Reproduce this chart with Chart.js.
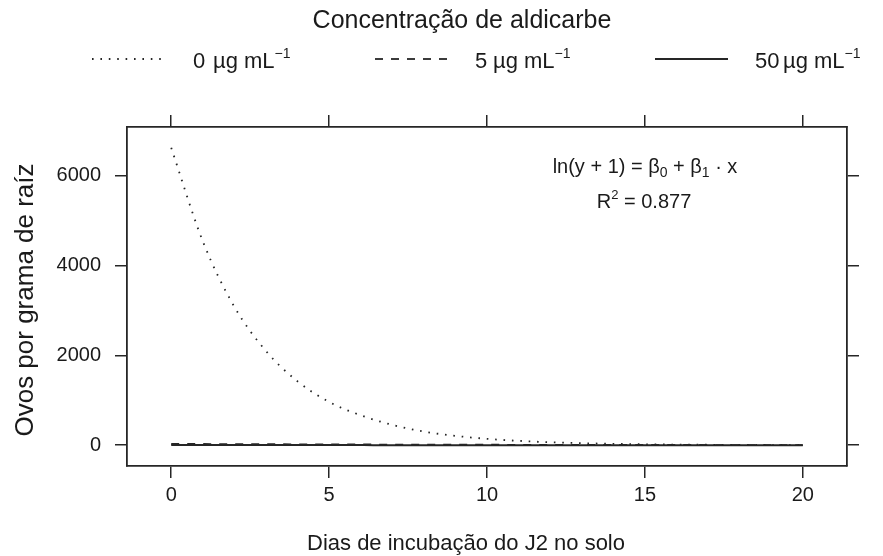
<!DOCTYPE html>
<html>
<head>
<meta charset="utf-8">
<script src="https://cdn.jsdelivr.net/npm/chart.js@4.4.1/dist/chart.umd.min.js"></script>
<style>
  html, body { margin: 0; padding: 0; background: #ffffff; }
  #wrap { width: 883px; height: 556px; }
</style>
</head>
<body>
<div id="wrap"><canvas id="c" width="883" height="556"></canvas></div>
<script>
// Incubation days of J2 in soil
const days = [0, 1, 2, 3, 4, 5, 6, 7, 8, 9, 10, 11, 12, 13, 14, 15, 16, 17, 18, 19, 20];

// Fitted eggs per gram of root, one list per aldicarb concentration
const eggs0 = [6622, 4542, 3082, 2098, 1422, 964, 667, 453, 304, 208, 142, 97, 66, 45, 30, 21, 14, 10, 6, 4, 3];
const eggs5 = [30, 27, 24, 22, 20, 18, 16, 14, 13, 11, 10, 9, 8, 7, 6, 6, 5, 4, 4, 3, 3];
const eggs50 = [2, 2, 2, 2, 2, 2, 2, 1, 1, 1, 1, 1, 1, 1, 1, 1, 1, 1, 1, 1, 1];

// Axis ticks
const xTicks = [0, 5, 10, 15, 20];
const yTicks = [0, 2000, 4000, 6000];

// Texts
const titleText = 'Concentração de aldicarbe';
const xTitle = 'Dias de incubação do J2 no solo';
const yTitle = 'Ovos por grama de raíz';
const legendDoses = ['0', '5', '50'];

const FONT = '"Liberation Sans", Arial, Helvetica, sans-serif';
const INK = '#1a1a1a';
const LINE = '#262626';

const DOT = [1.6, 6.8];
const DASH = [8, 8];

function series(values) {
  return days.map((d, i) => ({ x: d, y: values[i] }));
}

function fixTicks(list) {
  return function (scale) {
    scale.ticks = list.map(v => ({ value: v }));
  };
}

function setSize(prop, size) {
  return function (scale) { scale[prop] = size; };
}

// Draws a run of text pieces (normal, sub- and superscripts) starting at x
function drawPieces(ctx, pieces, x, baseY) {
  let cx = x;
  pieces.forEach(p => {
    ctx.font = p.size + 'px ' + FONT;
    ctx.textBaseline = 'alphabetic';
    ctx.textAlign = 'left';
    if (p.at !== undefined) cx = x + p.at;
    ctx.fillText(p.t, cx, baseY + (p.dy || 0));
    cx += ctx.measureText(p.t).width;
  });
  return cx - x;
}

function piecesWidth(ctx, pieces) {
  let w = 0;
  pieces.forEach(p => {
    ctx.font = p.size + 'px ' + FONT;
    w += ctx.measureText(p.t).width;
  });
  return w;
}

const annotations = {
  id: 'annotations',
  afterDraw(chart) {
    const ctx = chart.ctx;
    ctx.save();
    ctx.fillStyle = INK;

    // Title
    ctx.save();
    ctx.translate(462, 28);
    ctx.scale(1, 1.06);
    ctx.font = '25px ' + FONT;
    ctx.textAlign = 'center';
    ctx.textBaseline = 'alphabetic';
    ctx.fillText(titleText, 0, 0);
    ctx.restore();

    // Legend samples
    const ly = 59;
    const samples = [
      { x0: 92, x1: 164, dash: DOT, w: 1.8 },
      { x0: 375, x1: 447, dash: DASH, w: 1.8 },
      { x0: 655, x1: 728, dash: [], w: 2 }
    ];
    samples.forEach(s => {
      ctx.save();
      ctx.strokeStyle = LINE;
      ctx.lineWidth = s.w;
      ctx.setLineDash(s.dash);
      ctx.beginPath();
      ctx.moveTo(s.x0, ly);
      ctx.lineTo(s.x1, ly);
      ctx.stroke();
      ctx.restore();
    });

    // Legend labels
    const labelX = [193, 475, 755];
    const unitAt = [20, 18, 28];
    legendDoses.forEach((dose, i) => {
      drawPieces(ctx, [
        { t: dose, size: 22, at: 0 },
        { t: 'µg', size: 22, at: unitAt[i] },
        { t: ' mL', size: 22 },
        { t: '−1', size: 14, dy: -10 }
      ], labelX[i], 68);
    });

    // Model and fit quality inside the panel
    const eq = [
      { t: 'ln(y + 1) = β', size: 20 },
      { t: '0', size: 14, dy: 4 },
      { t: ' + β', size: 20 },
      { t: '1', size: 14, dy: 4 },
      { t: ' · x', size: 20 }
    ];
    const eqW = piecesWidth(ctx, eq);
    drawPieces(ctx, eq, 645 - eqW / 2, 173);

    const r2 = [
      { t: 'R', size: 20 },
      { t: '2', size: 13, dy: -9 },
      { t: ' = 0.877', size: 20 }
    ];
    const r2W = piecesWidth(ctx, r2);
    drawPieces(ctx, r2, 644 - r2W / 2, 208);

    // Axis titles
    ctx.font = '22px ' + FONT;
    ctx.textAlign = 'center';
    ctx.textBaseline = 'alphabetic';
    ctx.fillText(xTitle, 466, 550);

    ctx.save();
    ctx.translate(33, 300);
    ctx.rotate(-Math.PI / 2);
    ctx.font = '26px ' + FONT;
    ctx.fillText(yTitle, 0, 0);
    ctx.restore();

    ctx.restore();
  }
};

const gridOpts = {
  display: true,
  drawOnChartArea: false,
  drawTicks: true,
  tickLength: 12,
  color: LINE,
  lineWidth: 1.5
};
const borderOpts = { display: true, color: LINE, width: 1.8 };
const tickFont = { family: FONT, size: 20 };
const plainNumber = v => String(v);

new Chart(document.getElementById('c'), {
  type: 'line',
  data: {
    datasets: [
      {
        label: '0 µg mL-1',
        data: series(eggs0),
        borderColor: LINE,
        borderWidth: 1.8,
        borderDash: DOT,
        pointRadius: 0,
        cubicInterpolationMode: 'monotone',
        fill: false
      },
      {
        label: '5 µg mL-1',
        data: series(eggs5),
        borderColor: LINE,
        borderWidth: 1.8,
        borderDash: DASH,
        pointRadius: 0,
        cubicInterpolationMode: 'monotone',
        fill: false
      },
      {
        label: '50 µg mL-1',
        data: series(eggs50),
        borderColor: LINE,
        borderWidth: 2,
        pointRadius: 0,
        cubicInterpolationMode: 'monotone',
        fill: false
      }
    ]
  },
  options: {
    responsive: false,
    animation: false,
    events: [],
    layout: { padding: 0 },
    plugins: {
      legend: { display: false },
      title: { display: false },
      tooltip: { enabled: false }
    },
    scales: {
      x: {
        type: 'linear',
        position: 'bottom',
        min: -1.4,
        max: 21.4,
        afterBuildTicks: fixTicks(xTicks),
        afterFit: setSize('height', 90),
        grid: gridOpts,
        border: borderOpts,
        ticks: { font: tickFont, color: INK, padding: 5, maxRotation: 0, callback: plainNumber }
      },
      xTop: {
        type: 'linear',
        position: 'top',
        min: -1.4,
        max: 21.4,
        afterBuildTicks: fixTicks(xTicks),
        afterFit: setSize('height', 127),
        grid: gridOpts,
        border: borderOpts,
        ticks: { display: false }
      },
      y: {
        type: 'linear',
        position: 'left',
        min: -463,
        max: 7085,
        afterBuildTicks: fixTicks(yTicks),
        afterFit: setSize('width', 127),
        grid: gridOpts,
        border: borderOpts,
        ticks: { font: tickFont, color: INK, padding: 14, callback: plainNumber }
      },
      yRight: {
        type: 'linear',
        position: 'right',
        min: -463,
        max: 7085,
        afterBuildTicks: fixTicks(yTicks),
        afterFit: setSize('width', 36),
        grid: gridOpts,
        border: borderOpts,
        ticks: { display: false }
      }
    }
  },
  plugins: [annotations]
});
</script>
</body>
</html>
